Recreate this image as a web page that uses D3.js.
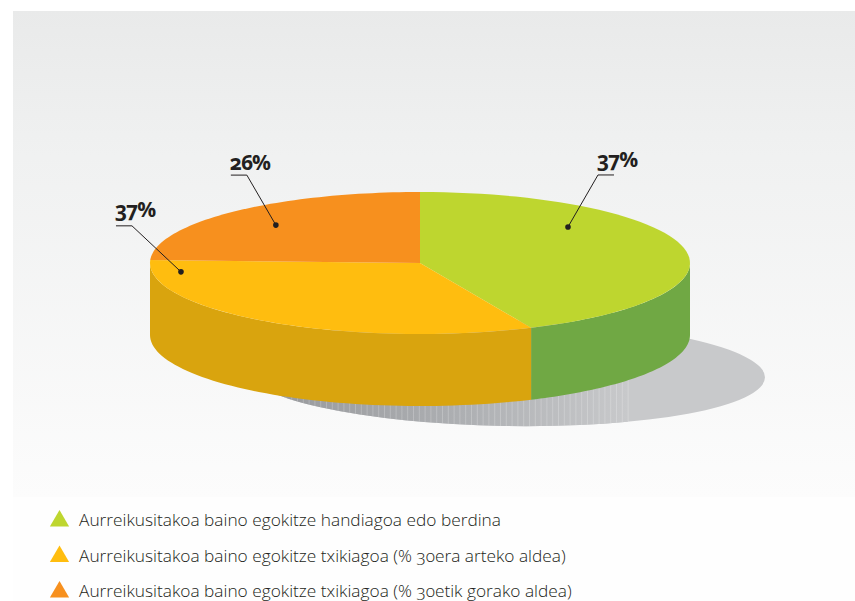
<!DOCTYPE html>
<html>
<head>
<meta charset="utf-8">
<script src="https://cdn.jsdelivr.net/npm/d3@7"></script>
<style>
  html, body { margin: 0; padding: 0; background: #fff; }
  svg { display: block; }
  .legend text { font-family: "Open Sans", sans-serif; font-weight: 300; font-size: 17.3px; fill: #231f20; font-feature-settings: "onum"; }
  .pct { font-family: "Open Sans", sans-serif; font-weight: 700; font-size: 21px; fill: #231f20; font-feature-settings: "onum"; letter-spacing: -1px; }
</style>
</head>
<body>
<div id="chart"></div>
<script>
const categories = [
  'Aurreikusitakoa baino egokitze handiagoa edo berdina',
  'Aurreikusitakoa baino egokitze txikiagoa (% 30era arteko aldea)',
  'Aurreikusitakoa baino egokitze txikiagoa (% 30etik gorako aldea)'
];
// slice sizes as drawn (the drawing does not follow its own labels)
const sliceValues = [43.25, 32.4, 24.35];
const sliceLabels = ['37%', '37%', '26%'];
const topColors = ['#bed62f', '#ffbd0f', '#f7901e'];
const sideColors = ['#70a844', '#d9a40e', '#c9761a'];

const width = 855, height = 601;
const depth = 72;

const svg = d3.select('#chart').append('svg')
  .attr('width', width)
  .attr('height', height);

const defs = svg.append('defs');

const bgGrad = defs.append('linearGradient')
  .attr('id', 'bg-grad')
  .attr('x1', 0).attr('y1', 0).attr('x2', 0).attr('y2', 1);
bgGrad.append('stop').attr('offset', '0%').attr('stop-color', '#e9eaea');
bgGrad.append('stop').attr('offset', '30%').attr('stop-color', '#f0f1f1');
bgGrad.append('stop').attr('offset', '100%').attr('stop-color', '#fcfcfc');

const shadowGrad = defs.append('linearGradient')
  .attr('id', 'shadow-grad')
  .attr('gradientUnits', 'userSpaceOnUse')
  .attr('x1', 225).attr('y1', 0).attr('x2', 628).attr('y2', 0);
shadowGrad.append('stop').attr('offset', '0%').attr('stop-color', '#929497');
shadowGrad.append('stop').attr('offset', '60%').attr('stop-color', '#aeb0b3');
shadowGrad.append('stop').attr('offset', '100%').attr('stop-color', '#c8c9cb');

svg.append('rect')
  .attr('x', 13).attr('y', 497)
  .attr('width', width - 13).attr('height', height - 497)
  .attr('fill', '#fefefe');
svg.append('rect')
  .attr('x', 13).attr('y', 11)
  .attr('width', width - 13).attr('height', 486)
  .attr('fill', 'url(#bg-grad)');

// pie is an ellipse, x and y run from -1 to 1 across it
const x = d3.scaleLinear().domain([-1, 1]).range([150, 690]);
const y = d3.scaleLinear().domain([-1, 1]).range([192, 334]);

const pie = d3.pie().sort(null).value(d => d)(sliceValues);

const px = (a, r = 1) => x(r * Math.sin(a));
const py = (a, r = 1) => y(-r * Math.cos(a));
const steps = (a0, a1) => d3.range(0, 61).map(i => a0 + (a1 - a0) * i / 60);
const line = d3.line();

// shadow, left part is a darker gradient with thin light stripes
const shadow = {cx: 505, cy: 373, rx: 260, ry: 53, tilt: 1};
const shadowTilt = 'rotate(' + shadow.tilt + ',' + shadow.cx + ',' + shadow.cy + ')';
svg.append('ellipse')
  .attr('cx', shadow.cx).attr('cy', shadow.cy)
  .attr('rx', shadow.rx).attr('ry', shadow.ry)
  .attr('transform', shadowTilt)
  .attr('fill', '#c8c9cb');
svg.append('clipPath').attr('id', 'shadow-clip')
  .append('ellipse')
  .attr('cx', shadow.cx).attr('cy', shadow.cy)
  .attr('rx', shadow.rx).attr('ry', shadow.ry)
  .attr('transform', shadowTilt);
const shadowG = svg.append('g').attr('clip-path', 'url(#shadow-clip)');
shadowG.append('rect')
  .attr('x', 225).attr('y', 375)
  .attr('width', 403).attr('height', 60)
  .attr('fill', 'url(#shadow-grad)');
shadowG.selectAll('rect.stripe')
  .data(d3.range(268, 628, 5.8))
  .enter()
  .append('rect')
  .attr('class', 'stripe')
  .attr('x', d => d)
  .attr('y', 375)
  .attr('width', 1)
  .attr('height', 60)
  .attr('fill', '#fff')
  .attr('opacity', 0.22);

// side walls, only the front half shows
pie.forEach((d, i) => {
  const a0 = Math.max(d.startAngle, Math.PI / 2);
  const a1 = Math.min(d.endAngle, 3 * Math.PI / 2);
  if(a0 >= a1) return;
  const top = steps(a0, a1).map(a => [px(a), py(a)]);
  const bottom = steps(a1, a0).map(a => [px(a), py(a) + depth]);
  svg.append('path')
    .attr('d', line(top.concat(bottom)) + 'Z')
    .attr('fill', sideColors[i]);
});

// top face
pie.forEach((d, i) => {
  const pts = [[x(0), y(0)]].concat(steps(d.startAngle, d.endAngle).map(a => [px(a), py(a)]));
  svg.append('path')
    .attr('d', line(pts) + 'Z')
    .attr('fill', topColors[i]);
});

// labels with leader lines. a = angle in degrees, r = radius fraction,
// ex/ey = elbow offset from the dot, lift = baseline above the underline
const leaders = [
  {label: sliceLabels[0], a: 47.2, r: 0.747, ex: 30, ey: -52, lift: 8},
  {label: sliceLabels[1], a: 262, r: 0.894, ex: -49, ey: -46, lift: 9},
  {label: sliceLabels[2], a: 315, r: 0.755, ex: -29, ey: -50, lift: 5}
];

leaders.forEach((l) => {
  const rad = l.a * Math.PI / 180;
  const dx = px(rad, l.r), dy = py(rad, l.r);
  const elbow = [dx + l.ex, dy + l.ey];
  const start = [elbow[0] + (l.ex > 0 ? 16 : -16), elbow[1]];
  svg.append('path')
    .attr('d', line([[dx, dy], elbow, start]))
    .attr('fill', 'none')
    .attr('stroke', '#231f20')
    .attr('stroke-width', 1);
  svg.append('circle')
    .attr('cx', dx).attr('cy', dy).attr('r', 2.8)
    .attr('fill', '#231f20');
  svg.append('text')
    .attr('class', 'pct')
    .attr('x', Math.min(elbow[0], start[0]) - 1)
    .attr('y', elbow[1] - l.lift)
    .text(l.label);
});

// legend
const legendY = d3.scalePoint().domain(categories).range([520, 591]);
const legend = svg.append('g').attr('class', 'legend');
const tri = d3.symbol().type(d3.symbolTriangle).size(160);

categories.forEach((c, i) => {
  legend.append('path')
    .attr('d', tri())
    .attr('transform', 'translate(59.5,' + (legendY(c) + 1) + ')')
    .attr('fill', topColors[i]);
  legend.append('text')
    .attr('x', 79)
    .attr('y', legendY(c) + 6)
    .text(c);
});
</script>
</body>
</html>
